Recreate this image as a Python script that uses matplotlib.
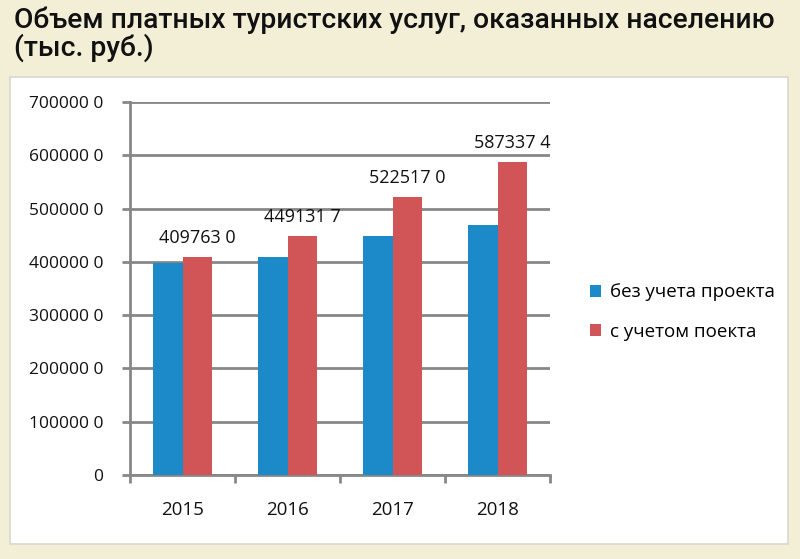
import numpy as np
import matplotlib.pyplot as plt
from matplotlib.patches import Rectangle

years = ["2015", "2016", "2017", "2018"]
without_project = [397000, 409763.0, 449131.7, 468500]
with_project = [409763.0, 449131.7, 522517.0, 587337.4]
series_names = ["без учета проекта", "с учетом поекта"]
yticks = [0, 100000, 200000, 300000, 400000, 500000, 600000, 700000]

BG = "#f3efd7"
BLUE = "#1c8ac8"
RED = "#d15457"
GRID = "#878787"

plt.rcParams["font.family"] = ["Open Sans", "DejaVu Sans"]

fig = plt.figure(figsize=(8, 5.59), dpi=100, facecolor=BG)
W, H = 800, 559

# white chart panel
fig.patches.append(Rectangle((10 / W, 1 - 544 / H), 778 / W, 467 / H,
                             transform=fig.transFigure, facecolor="white",
                             edgecolor="#d8d8d0", linewidth=1.2, zorder=-5))

fig.text(14 / W, 1 - 34 / H, "Объем платных туристских услуг, оказанных населению\n(тыс. руб.)",
         fontsize=20.3, fontweight="medium", family=["Roboto", "DejaVu Sans"],
         color="#111111", va="center", ha="left", linespacing=1.0)

ax = fig.add_axes([130 / W, 1 - 475 / H, 420 / W, 373 / H])
ax.set_facecolor("white")

x = np.arange(len(years))
bw = 0.285
ax.bar(x - bw / 2, without_project, bw, color=BLUE, label=series_names[0], zorder=3)
ax.bar(x + bw / 2, with_project, bw, color=RED, label=series_names[1], zorder=3)

for xi, v in zip(x, with_project):
    txt = f"{v:.1f}".replace(".", " ")
    ax.annotate(txt, (xi + bw / 2, v), xytext=(0, 7), textcoords="offset points",
                ha="center", va="bottom", fontsize=13, color="#111111")

ax.set_xlim(-0.5, len(years) - 0.5)
ax.set_ylim(0, 700000)
ax.set_yticks(yticks)
ax.set_yticklabels(["0"] + [f"{t} 0" for t in yticks[1:]])
ax.set_xticks(x)
ax.set_xticklabels(years)
ax.set_xticks(np.arange(len(years) + 1) - 0.5, minor=True)

ax.yaxis.grid(True, color=GRID, linewidth=2, zorder=0)
ax.set_axisbelow(True)
for s in ["top", "right"]:
    ax.spines[s].set_visible(False)
for s in ["left", "bottom"]:
    ax.spines[s].set_color(GRID)
    ax.spines[s].set_linewidth(2)

ax.tick_params(axis="y", length=6, width=2, color=GRID, labelsize=12.5, pad=13, labelcolor="#111111")
ax.tick_params(axis="x", which="major", length=0, labelsize=13.5, pad=19, labelcolor="#111111")
ax.tick_params(axis="x", which="minor", length=6, width=2, color=GRID)

leg = fig.legend(loc="center left", bbox_to_anchor=(573 / W, 1 - 312 / H), frameon=False,
                 fontsize=13.5, handlelength=0.6, handleheight=0.6, handletextpad=0.5,
                 labelspacing=1.15)

fig.savefig("out.png", dpi=100, facecolor=BG)
